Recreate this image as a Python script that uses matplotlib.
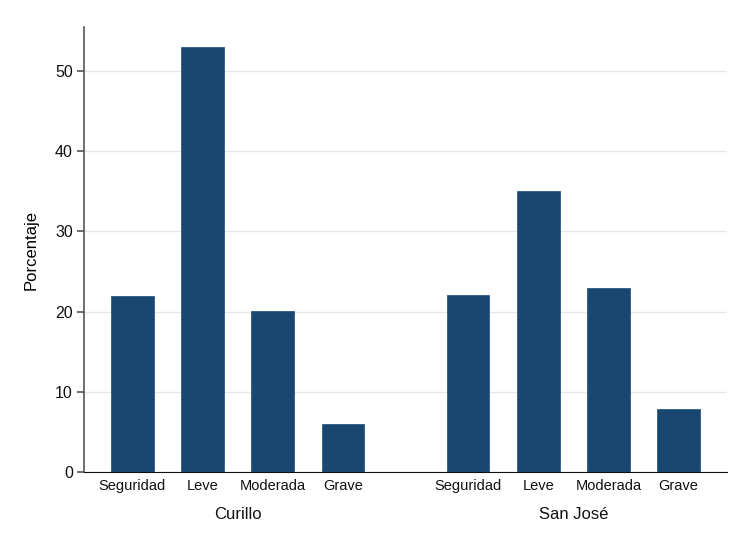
import matplotlib
matplotlib.use('Agg')
import matplotlib.pyplot as plt
import matplotlib.transforms as mtransforms

plt.rcParams['font.family'] = ['Liberation Sans', 'DejaVu Sans']

# datos
categorias = ["Seguridad", "Leve", "Moderada", "Grave"]
grupos = ["Curillo", "San José"]
curillo = [21.9, 53.0, 20.1, 6.0]
san_jose = [22.1, 35.1, 23.0, 7.9]

bar_color = '#1a476f'
gap = 4.78  # desplazamiento del segundo grupo

fig = plt.figure(figsize=(7.54, 5.43), dpi=100)
ax = fig.add_axes([84/754, 71/543, 643/754, 445/543])

x1 = list(range(len(categorias)))
x2 = [gap + i for i in x1]
ax.bar(x1, curillo, width=0.61, color=bar_color, edgecolor='#2a5a85', linewidth=0.6, zorder=3)
ax.bar(x2, san_jose, width=0.61, color=bar_color, edgecolor='#2a5a85', linewidth=0.6, zorder=3)

ax.set_xlim(-0.69, x2[-1] + 0.69)
ax.set_ylim(0, 55.5)
ax.set_yticks([0, 10, 20, 30, 40, 50])
ax.set_xticks(x1 + x2)
ax.set_xticklabels(categorias + categorias)
ax.tick_params(axis='x', length=0, pad=5, labelsize=10.5, colors='#111111')
ax.tick_params(axis='y', length=5, width=1.2, pad=3, labelsize=11.5, colors='#555555', labelcolor='#111111')

ax.grid(axis='y', color='#e6e6e6', linewidth=1, zorder=0)
ax.spines['top'].set_visible(False)
ax.spines['right'].set_visible(False)
ax.spines['left'].set_color('#555555')
ax.spines['left'].set_linewidth(1.2)
ax.spines['bottom'].set_color('#111111')

ax.set_ylabel("Porcentaje", fontsize=12, labelpad=12)

# etiquetas de grupo
trans = mtransforms.blended_transform_factory(ax.transData, ax.transAxes)
for xs, nombre in zip([x1, x2], grupos):
    centro = (xs[0] + xs[-1]) / 2
    ax.text(centro, -0.095, nombre, transform=trans, ha='center', va='center',
            fontsize=12, color='#111111')

fig.savefig("out.png", dpi=100, facecolor='white')
